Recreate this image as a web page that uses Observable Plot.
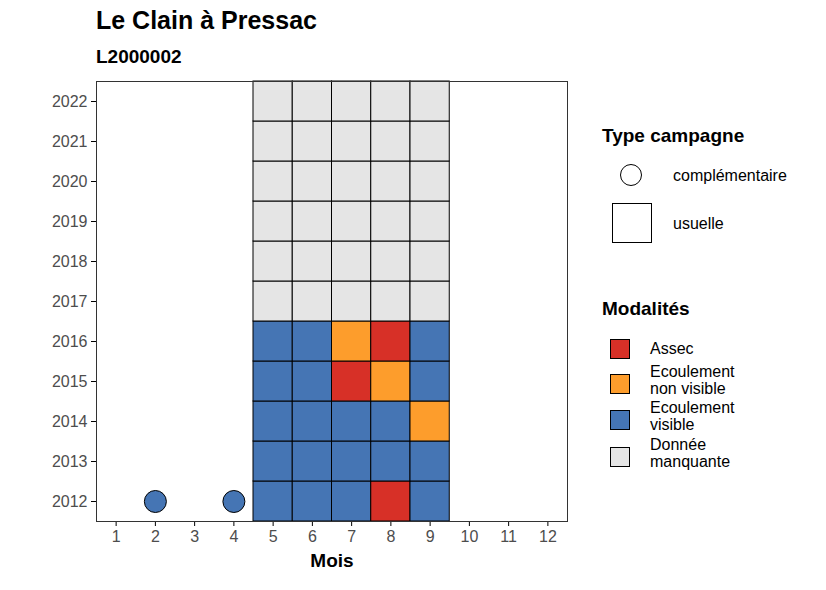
<!DOCTYPE html>
<html><head><meta charset="utf-8">
<script src="https://cdn.jsdelivr.net/npm/d3@7"></script>
<script src="https://cdn.jsdelivr.net/npm/@observablehq/plot@0.6"></script>
<style>
body{margin:0;font-family:"Liberation Sans",Arial,sans-serif;background:#fff}
#wrap{position:relative;width:826px;height:590px}
.abs{position:absolute;white-space:nowrap}
.sw{position:absolute;width:20px;height:20px;border:1px solid #000;box-sizing:border-box}
.lab{position:absolute;font-size:16px;line-height:17px;color:#000}
</style></head><body>
<div id="wrap">
  <div class="abs" style="left:96px;top:6px;font-size:25px;font-weight:bold">Le Clain à Pressac</div>
  <div class="abs" style="left:96px;top:46px;font-size:19px;font-weight:bold">L2000002</div>
  <div id="chart" class="abs" style="left:0;top:0"></div>
  <div id="legend"></div>
</div>
<script>
const months = [5, 6, 7, 8, 9];
const years = [2012, 2013, 2014, 2015, 2016, 2017, 2018, 2019, 2020, 2021, 2022];
// modalité per year, months 5..9 (A = Assec, O = non visible, V = visible, M = manquante)
const grid = {
  2012: ["V", "V", "V", "A", "V"],
  2013: ["V", "V", "V", "V", "V"],
  2014: ["V", "V", "V", "V", "O"],
  2015: ["V", "V", "A", "O", "V"],
  2016: ["V", "V", "O", "A", "V"],
  2017: ["M", "M", "M", "M", "M"],
  2018: ["M", "M", "M", "M", "M"],
  2019: ["M", "M", "M", "M", "M"],
  2020: ["M", "M", "M", "M", "M"],
  2021: ["M", "M", "M", "M", "M"],
  2022: ["M", "M", "M", "M", "M"]
};
const compMonths = [2, 4];
const compYear = 2012;
const compMod = "V";
const modKeys = ["A", "O", "V", "M"];
const modLabels = ["Assec", "Ecoulement\nnon visible", "Ecoulement\nvisible", "Donnée\nmanquante"];
const modColors = ["#d73027", "#fd9d2c", "#4575b4", "#e5e5e5"];
const color = k => modColors[modKeys.indexOf(k)];

const cells = [];
years.forEach(y => grid[y].forEach((k, i) => cells.push({month: months[i], year: y, mod: k})));
const comps = compMonths.map(m => ({month: m, year: compYear, mod: compMod}));

const svg = Plot.plot({
  width: 826, height: 590,
  marginLeft: 96, marginRight: 259, marginTop: 81, marginBottom: 69,
  style: {fontFamily: "Liberation Sans, Arial, sans-serif", fontSize: "16px", background: "transparent"},
  x: {type: "linear", domain: [0.5, 12.5], ticks: d3.range(1, 13), tickFormat: d => String(d), label: null, tickSize: 5},
  y: {type: "linear", domain: [2011.5, 2022.5], ticks: years, tickFormat: d => String(d), label: null, tickSize: 5},
  marks: [
    Plot.rect(cells, {x1: d => d.month - 0.5, x2: d => d.month + 0.5, y1: d => d.year - 0.5, y2: d => d.year + 0.5,
      fill: d => color(d.mod), stroke: "#000", strokeWidth: 1}),
    Plot.dot(comps, {x: "month", y: "year", r: 11, fill: d => color(d.mod), stroke: "#000", strokeWidth: 1}),
    Plot.frame({stroke: "#333"}),
    Plot.text(["Mois"], {frameAnchor: "bottom", dy: 45, fontSize: 19, fontWeight: "bold", fill: "#000"})
  ]
});
svg.querySelectorAll('g[aria-label$="tick label"] text').forEach(t => t.setAttribute("fill", "#4d4d4d"));
document.getElementById("chart").appendChild(svg);

const lg = document.getElementById("legend");
let h = '';
h += '<div class="abs" style="left:602px;top:125px;font-size:19px;font-weight:bold">Type campagne</div>';
h += '<div class="abs" style="left:620px;top:164px;width:22px;height:22px;border:1px solid #000;border-radius:50%;box-sizing:border-box"></div>';
h += '<div class="lab" style="left:673px;top:167px">complémentaire</div>';
h += '<div class="abs" style="left:612px;top:203px;width:40px;height:40px;border:1px solid #000;box-sizing:border-box"></div>';
h += '<div class="lab" style="left:673px;top:215px">usuelle</div>';
h += '<div class="abs" style="left:602px;top:298px;font-size:19px;font-weight:bold">Modalités</div>';
const tops = [339, 374, 410, 447];
modKeys.forEach((k, i) => {
  h += `<div class="sw" style="left:610px;top:${tops[i]}px;background:${modColors[i]}"></div>`;
  const lines = modLabels[i].split("\n");
  const ty = lines.length > 1 ? tops[i] - 11 : tops[i] + 1;
  h += `<div class="lab" style="left:650px;top:${ty}px">${lines.join("<br>")}</div>`;
});
lg.innerHTML = h;
</script>
</body></html>
